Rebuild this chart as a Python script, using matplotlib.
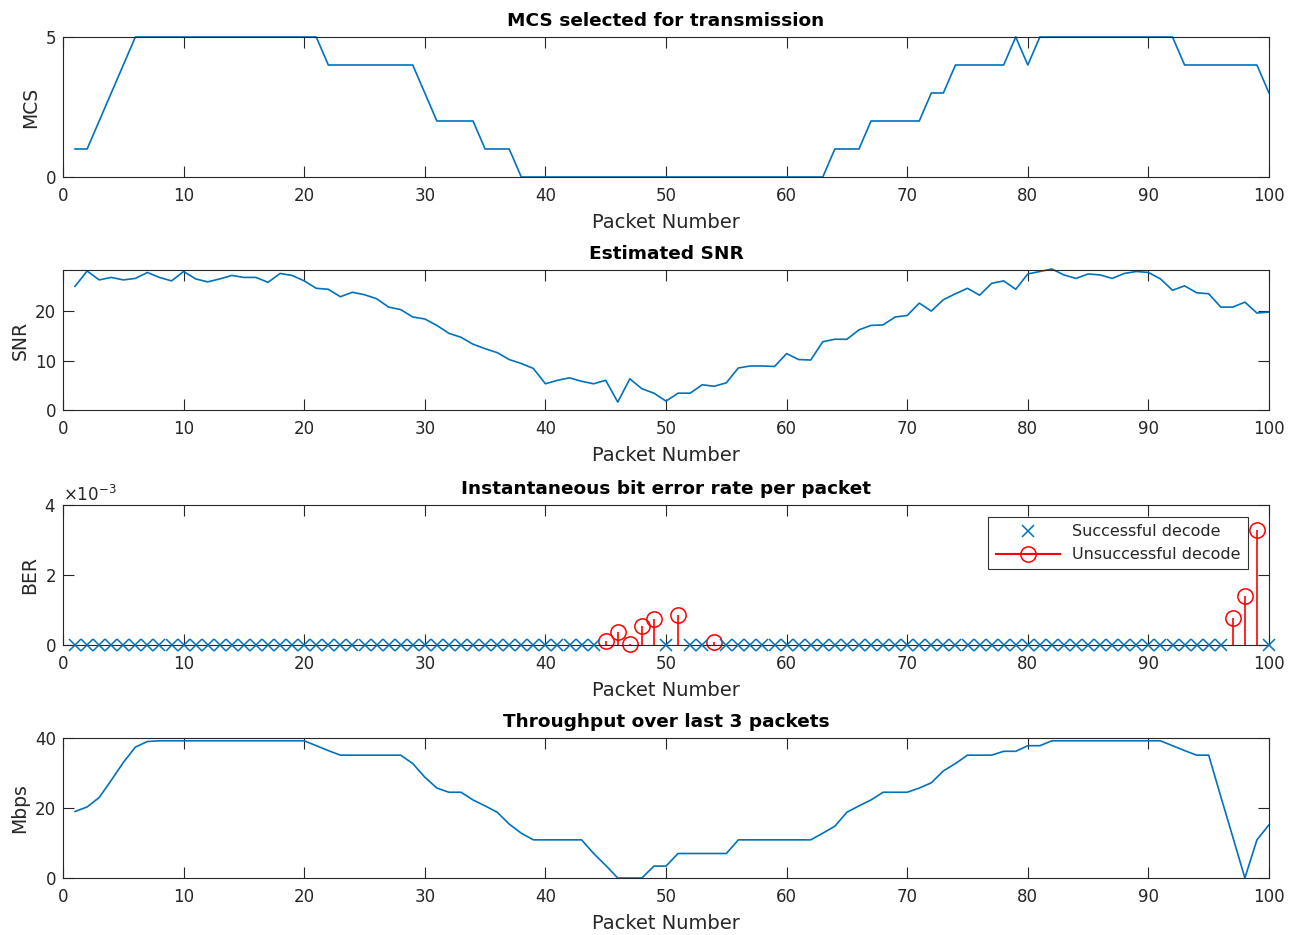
import numpy as np
import matplotlib.pyplot as plt
from matplotlib.lines import Line2D

plt.rcParams['font.family'] = ['DejaVu Sans']

# data
packets = np.arange(1, 101)

mcs = [1, 1, 2, 3, 4, 5, 5, 5, 5, 5,
       5, 5, 5, 5, 5, 5, 5, 5, 5, 5,
       5, 4, 4, 4, 4, 4, 4, 4, 4, 3,
       2, 2, 2, 2, 1, 1, 1, 0, 0, 0,
       0, 0, 0, 0, 0, 0, 0, 0, 0, 0,
       0, 0, 0, 0, 0, 0, 0, 0, 0, 0,
       0, 0, 0, 1, 1, 1, 2, 2, 2, 2,
       2, 3, 3, 4, 4, 4, 4, 4, 5, 4,
       5, 5, 5, 5, 5, 5, 5, 5, 5, 5,
       5, 5, 4, 4, 4, 4, 4, 4, 4, 3]

snr = [25.0, 28.1, 26.3, 26.8, 26.3, 26.6, 27.8, 26.8, 26.1, 28.0,
       26.5, 25.9, 26.5, 27.2, 26.8, 26.8, 25.8, 27.6, 27.2, 26.1,
       24.6, 24.4, 22.9, 23.8, 23.3, 22.5, 20.8, 20.3, 18.8, 18.4,
       17.1, 15.5, 14.7, 13.3, 12.4, 11.6, 10.2, 9.4, 8.4, 5.3,
       6.0, 6.5, 5.8, 5.3, 6.0, 1.6, 6.3, 4.3, 3.4, 1.8,
       3.4, 3.4, 5.1, 4.8, 5.5, 8.5, 8.9, 8.9, 8.8, 11.4,
       10.2, 10.1, 13.8, 14.3, 14.3, 16.2, 17.1, 17.2, 18.8, 19.1,
       21.6, 20.0, 22.3, 23.5, 24.6, 23.2, 25.6, 26.1, 24.4, 27.5,
       28.0, 28.5, 27.3, 26.6, 27.5, 27.3, 26.6, 27.6, 28.0, 27.8,
       26.5, 24.2, 25.1, 23.7, 23.5, 20.8, 20.8, 21.8, 19.6, 19.8]

fail_packets = [45, 46, 47, 48, 49, 51, 54, 97, 98, 99]
fail_ber = [0.12e-3, 0.38e-3, 0.02e-3, 0.55e-3, 0.75e-3, 0.87e-3, 0.1e-3,
            0.76e-3, 1.4e-3, 3.3e-3]

throughput = [19.0, 20.3, 23.0, 27.9, 33.0, 37.4, 39.0, 39.2, 39.2, 39.2,
              39.2, 39.2, 39.2, 39.2, 39.2, 39.2, 39.2, 39.2, 39.2, 39.2,
              37.8, 36.4, 35.1, 35.1, 35.1, 35.1, 35.1, 35.1, 32.7, 28.8,
              25.7, 24.5, 24.5, 22.3, 20.6, 18.8, 15.4, 12.8, 10.9, 10.9,
              10.9, 10.9, 10.9, 7.0, 3.6, 0.0, 0.0, 0.0, 3.4, 3.4,
              7.0, 7.0, 7.0, 7.0, 7.0, 10.9, 10.9, 10.9, 10.9, 10.9,
              10.9, 10.9, 12.8, 14.8, 18.8, 20.6, 22.3, 24.5, 24.5, 24.5,
              25.7, 27.2, 30.6, 32.7, 35.1, 35.1, 35.1, 36.2, 36.2, 37.8,
              37.8, 39.2, 39.2, 39.2, 39.2, 39.2, 39.2, 39.2, 39.2, 39.2,
              39.2, 37.8, 36.4, 35.1, 35.1, 23.3, 11.7, 0.0, 10.9, 15.2]

ok_packets = [p for p in packets if p not in fail_packets]
ok_ber = [0.0] * len(ok_packets)

BLUE = (0, 0.447, 0.741)
AX_COLOR = '#262626'
W, H = 1302, 935
TITLE_SIZE = 13.3

fig = plt.figure(figsize=(W / 100, H / 100), dpi=100)

def make_axes(top_px):
    ax = fig.add_axes([63 / W, 1 - (top_px + 140) / H, 1206 / W, 140 / H])
    ax.set_xlim(0, 100)
    ax.set_xticks(range(0, 101, 10))
    ax.tick_params(direction='in', length=8, width=0.8, top=True, right=True,
                   labelsize=12, colors=AX_COLOR)
    ax.tick_params(axis='x', pad=7)
    ax.tick_params(axis='y', pad=5)
    for s in ax.spines.values():
        s.set_color(AX_COLOR)
        s.set_linewidth(0.8)
    ax.set_xlabel('Packet Number', fontsize=14, color=AX_COLOR, labelpad=6)
    return ax

ax1 = make_axes(37)
ax1.plot(packets, mcs, color=BLUE, lw=1.2, clip_on=False)
ax1.set_ylim(0, 5)
ax1.set_yticks([0, 5])
ax1.set_ylabel('MCS', fontsize=13.5, color=AX_COLOR)
ax1.set_title('MCS selected for transmission', fontsize=TITLE_SIZE, fontweight='bold', pad=8)

ax2 = make_axes(270)
ax2.plot(packets, snr, color=BLUE, lw=1.2, clip_on=False)
ax2.set_ylim(0, max(snr) - 0.2)
ax2.set_yticks([0, 10, 20])
ax2.set_ylabel('SNR', fontsize=13.5, color=AX_COLOR)
ax2.set_title('Estimated SNR', fontsize=TITLE_SIZE, fontweight='bold', pad=8)

ax3 = make_axes(505)
ax3.plot(ok_packets, ok_ber, linestyle='none', marker='x', color=BLUE,
         markersize=8, mew=1.1, clip_on=False, zorder=3)
ml, sl, bl = ax3.stem(fail_packets, fail_ber, linefmt='r-', markerfmt='ro', basefmt=' ')
plt.setp(ml, markerfacecolor='none', markersize=11, mew=1.1, clip_on=False)
plt.setp(sl, linewidth=1.2)
ax3.set_ylim(0, 4e-3)
ax3.set_yticks([0, 2e-3, 4e-3])
ax3.ticklabel_format(axis='y', style='sci', scilimits=(0, 0), useMathText=True)
ax3.yaxis.get_offset_text().set_fontsize(12)
ax3.yaxis.get_offset_text().set_color(AX_COLOR)
ax3.set_ylabel('BER', fontsize=13.5, color=AX_COLOR)
ax3.set_title('Instantaneous bit error rate per packet', fontsize=TITLE_SIZE, fontweight='bold', pad=8)
handles = [Line2D([], [], linestyle='none', marker='x', color=BLUE, markersize=8, mew=1.1),
           Line2D([], [], color='r', marker='o', markerfacecolor='none', markersize=11, mew=1.1)]
leg = ax3.legend(handles, ['Successful decode', 'Unsuccessful decode'], loc='upper right',
                 bbox_to_anchor=(1 - 21 / 1206, 1 - 12 / 140), borderaxespad=0,
                 fontsize=11.5, frameon=True, fancybox=False, edgecolor='black',
                 handlelength=4.0, labelspacing=0.5, borderpad=0.45)
leg.get_frame().set_linewidth(0.8)
for t in leg.get_texts():
    t.set_color(AX_COLOR)

ax4 = make_axes(738)
ax4.plot(packets, throughput, color=BLUE, lw=1.2, clip_on=False)
ax4.set_ylim(0, 40)
ax4.set_yticks([0, 20, 40])
ax4.set_ylabel('Mbps', fontsize=13.5, color=AX_COLOR)
ax4.set_title('Throughput over last 3 packets', fontsize=TITLE_SIZE, fontweight='bold', pad=8)

fig.savefig('out.png', dpi=100)
